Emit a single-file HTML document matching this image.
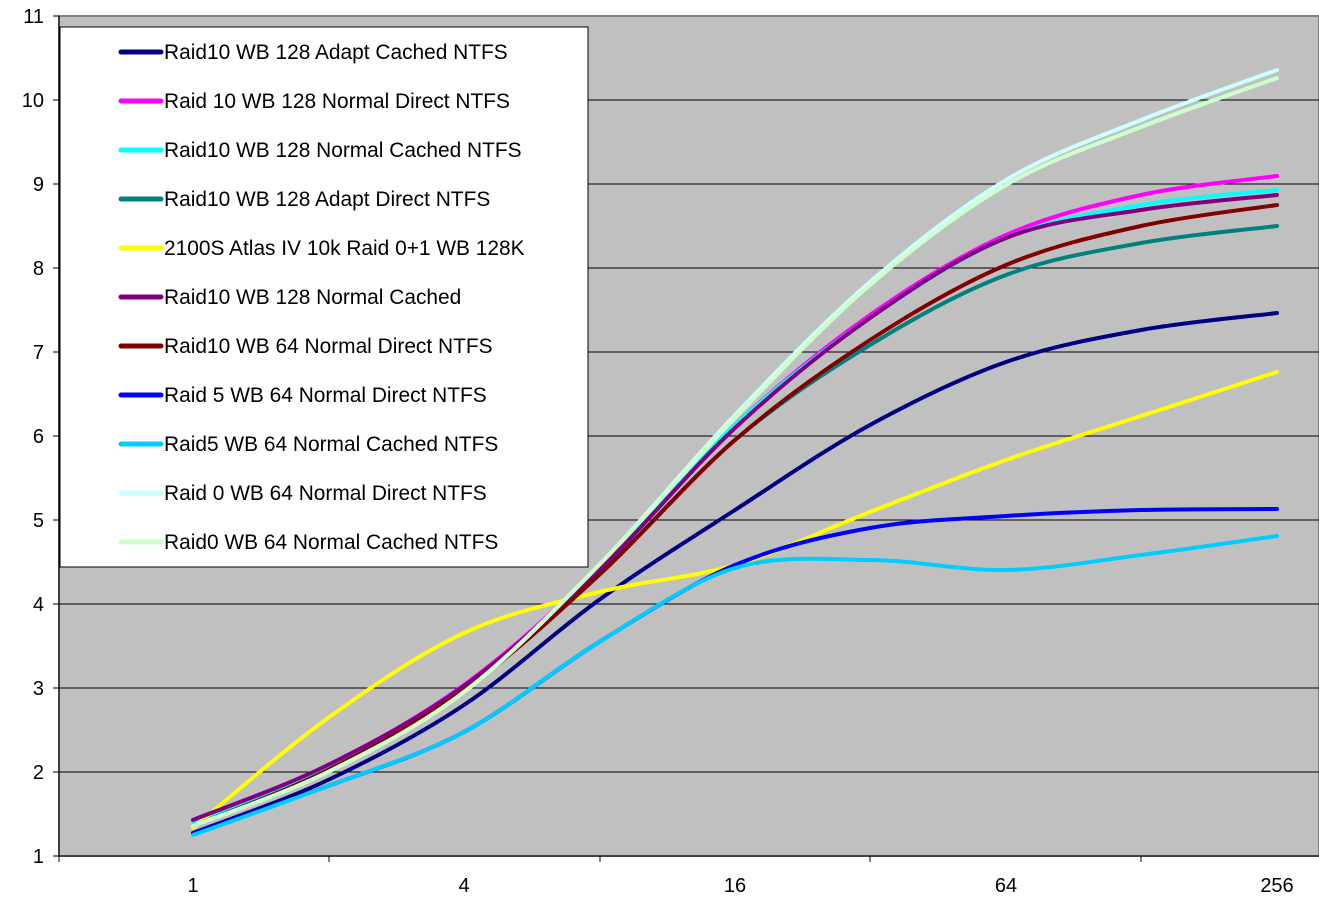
<!DOCTYPE html>
<html><head><meta charset="utf-8"><style>
body{margin:0;background:#fff;width:1319px;height:897px;overflow:hidden}
svg{display:block;font-family:"Liberation Sans",Arial,sans-serif}
</style></head><body>
<svg id="s" width="1319" height="897" xmlns="http://www.w3.org/2000/svg">
<rect x="59" y="16" width="1260" height="840" fill="#c0c0c0" stroke="#808080" stroke-width="2"/>
<g id="grid" stroke="#000" stroke-width="1"></g>
<g id="lab" font-size="20" fill="#000"></g>
<g id="ser" fill="none" stroke-width="4" stroke-linecap="round"></g>
<rect x="60" y="27" width="528" height="540" fill="#fff" stroke="#000" stroke-width="1"/>
<g id="leg" font-size="20.9" fill="#000"></g>
</svg>
<script>
var NS="http://www.w3.org/2000/svg";
function el(p,t,a,txt){var e=document.createElementNS(NS,t);for(var k in a)e.setAttribute(k,a[k]);if(txt)e.textContent=txt;document.getElementById(p).appendChild(e);return e;}
for(var v=1;v<=11;v++){var y=856-(v-1)*84;
 if(v>1&&v<11)el("grid","line",{x1:59,x2:1319,y1:y,y2:y});
 el("grid","line",{x1:53,x2:59,y1:y,y2:y});
 el("lab","text",{x:44,y:y+7,"text-anchor":"end"},String(v));}
el("grid","line",{x1:59,x2:1319,y1:856,y2:856});
el("grid","line",{x1:59,x2:59,y1:16,y2:856});
[59,329,600,870,1141].forEach(function(x){el("grid","line",{x1:x,x2:x,y1:856,y2:862});});
[["1",193],["4",464],["16",735],["64",1006],["256",1277]].forEach(function(a){el("lab","text",{x:a[1],y:892,"text-anchor":"middle"},a[0]);});
var X=[193,328,464,599,735,870,1006,1141,1277];
var S=[
["Raid10 WB 128 Adapt Cached NTFS","#000080",[833,780,705,600,510,425,362,330,313]],
["Raid 10 WB 128 Normal Direct NTFS","#ff00ff",[820,765,685,568,425,315,235,195,176]],
["Raid10 WB 128 Normal Cached NTFS","#00ffff",[822,767,688,568,425,318,238,205,190]],
["Raid10 WB 128 Adapt Direct NTFS","#008080",[826,770,690,575,440,345,275,243,226]],
["2100S Atlas IV 10k Raid 0+1 WB 128K","#ffff00",[828,718,633,592,565,512,460,416,372]],
["Raid10 WB 128 Normal Cached","#800080",[820,765,686,570,428,318,238,210,195]],
["Raid10 WB 64 Normal Direct NTFS","#800000",[826,770,690,575,440,340,265,226,205]],
["Raid 5 WB 64 Normal Direct NTFS","#0000ff",[833,786,732,642,565,528,516,510,509]],
["Raid5 WB 64 Normal Cached NTFS","#00ccff",[835,786,732,642,568,560,570,555,536]],
["Raid 0 WB 64 Normal Direct NTFS","#ccffff",[826,772,692,565,415,282,180,120,70]],
["Raid0 WB 64 Normal Cached NTFS","#ccffcc",[826,772,692,565,418,285,185,127,78]]];
function path(Y){var d="M"+X[0]+","+Y[0];for(var i=0;i<X.length-1;i++){
 var p0=[X[Math.max(i-1,0)],Y[Math.max(i-1,0)]],p1=[X[i],Y[i]],p2=[X[i+1],Y[i+1]],p3=[X[Math.min(i+2,X.length-1)],Y[Math.min(i+2,X.length-1)]];
 d+=" C"+(p1[0]+(p2[0]-p0[0])/6)+","+(p1[1]+(p2[1]-p0[1])/6)+" "+(p2[0]-(p3[0]-p1[0])/6)+","+(p2[1]-(p3[1]-p1[1])/6)+" "+p2[0]+","+p2[1];}
 return d;}
S.forEach(function(s,i){el("ser","path",{d:path(s[2]),stroke:s[1]});
 var y=52+i*49;
 el("leg","line",{x1:121,x2:161,y1:y,y2:y,stroke:s[1],"stroke-width":5,"stroke-linecap":"round"});
 el("leg","text",{x:164,y:y+7},s[0]);});
</script>
</body></html>
